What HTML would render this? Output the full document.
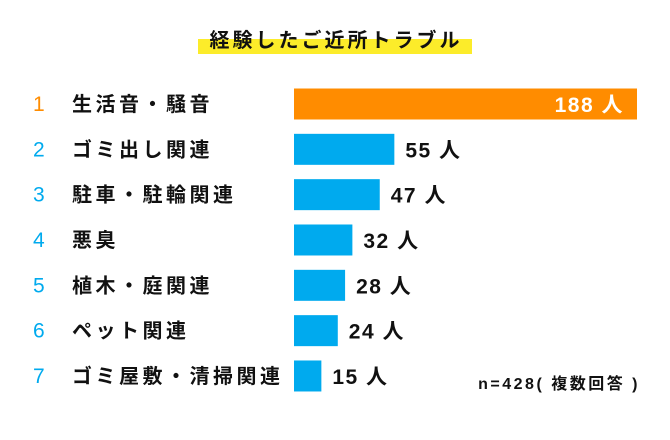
<!DOCTYPE html>
<html><head><meta charset="utf-8"><style>
body{margin:0;background:#fff;font-family:"Liberation Sans","Noto Sans CJK JP",sans-serif;}
#c{position:relative;width:670px;height:440px;overflow:hidden;}
</style></head><body>
<div id="c">
<svg id="s" width="670" height="440">
<rect x="198" y="39" width="274" height="15" fill="#fcec2a"/>
<text x="336" y="47" text-anchor="middle" font-size="20" font-weight="bold" fill="#111" font-family="Liberation Sans, Noto Sans CJK JP, sans-serif" letter-spacing="3">経験したご近所トラブル</text>
<text x="640" y="389" text-anchor="end" font-size="16" font-weight="bold" fill="#111" font-family="Liberation Sans, Noto Sans CJK JP, sans-serif" letter-spacing="2.5">n=428( 複数回答 )</text>
</svg>
</div>
<script>
const categories=["生活音・騒音","ゴミ出し関連","駐車・駐輪関連","悪臭","植木・庭関連","ペット関連","ゴミ屋敷・清掃関連"];
const values=[188,55,47,32,28,24,15];
const ranks=["1","2","3","4","5","6","7"];
const svg=document.getElementById('s');
const NS='http://www.w3.org/2000/svg';
const x0=294, maxW=343, maxV=188;
function xs(v){return v/maxV*maxW;}
function yc(i){return 104+i*45.33;}
const F='Liberation Sans, Noto Sans CJK JP, sans-serif';
function mk(t,a){const e=document.createElementNS(NS,t);for(const k in a)e.setAttribute(k,a[k]);svg.appendChild(e);return e;}
categories.forEach((c,i)=>{
  const col=i===0?'#ff8c00':'#00aaee';
  const r=mk('text',{x:33,y:yc(i)+7,'font-size':21,fill:col,'font-family':F});
  r.textContent=ranks[i];
  
  
  const l=mk('text',{x:72,y:yc(i)+7,'font-size':20,'font-weight':'bold',fill:'#111','font-family':F,'letter-spacing':3.5});
  l.textContent=c;
  
  
  const w=xs(values[i]);
  const b=mk('rect',{x:x0,y:yc(i)-15.5,width:w,height:31,fill:col});
  
  
  const inside=i===0;
  const v=mk('text',{x:inside?x0+w-13:x0+w+11,y:yc(i)+8,'font-size':21,'font-weight':'bold',fill:inside?'#fff':'#111','font-family':F,'text-anchor':inside?'end':'start','letter-spacing':1.5});
  v.textContent=values[i]+' 人';
  
  
});
</script>
</body></html>
